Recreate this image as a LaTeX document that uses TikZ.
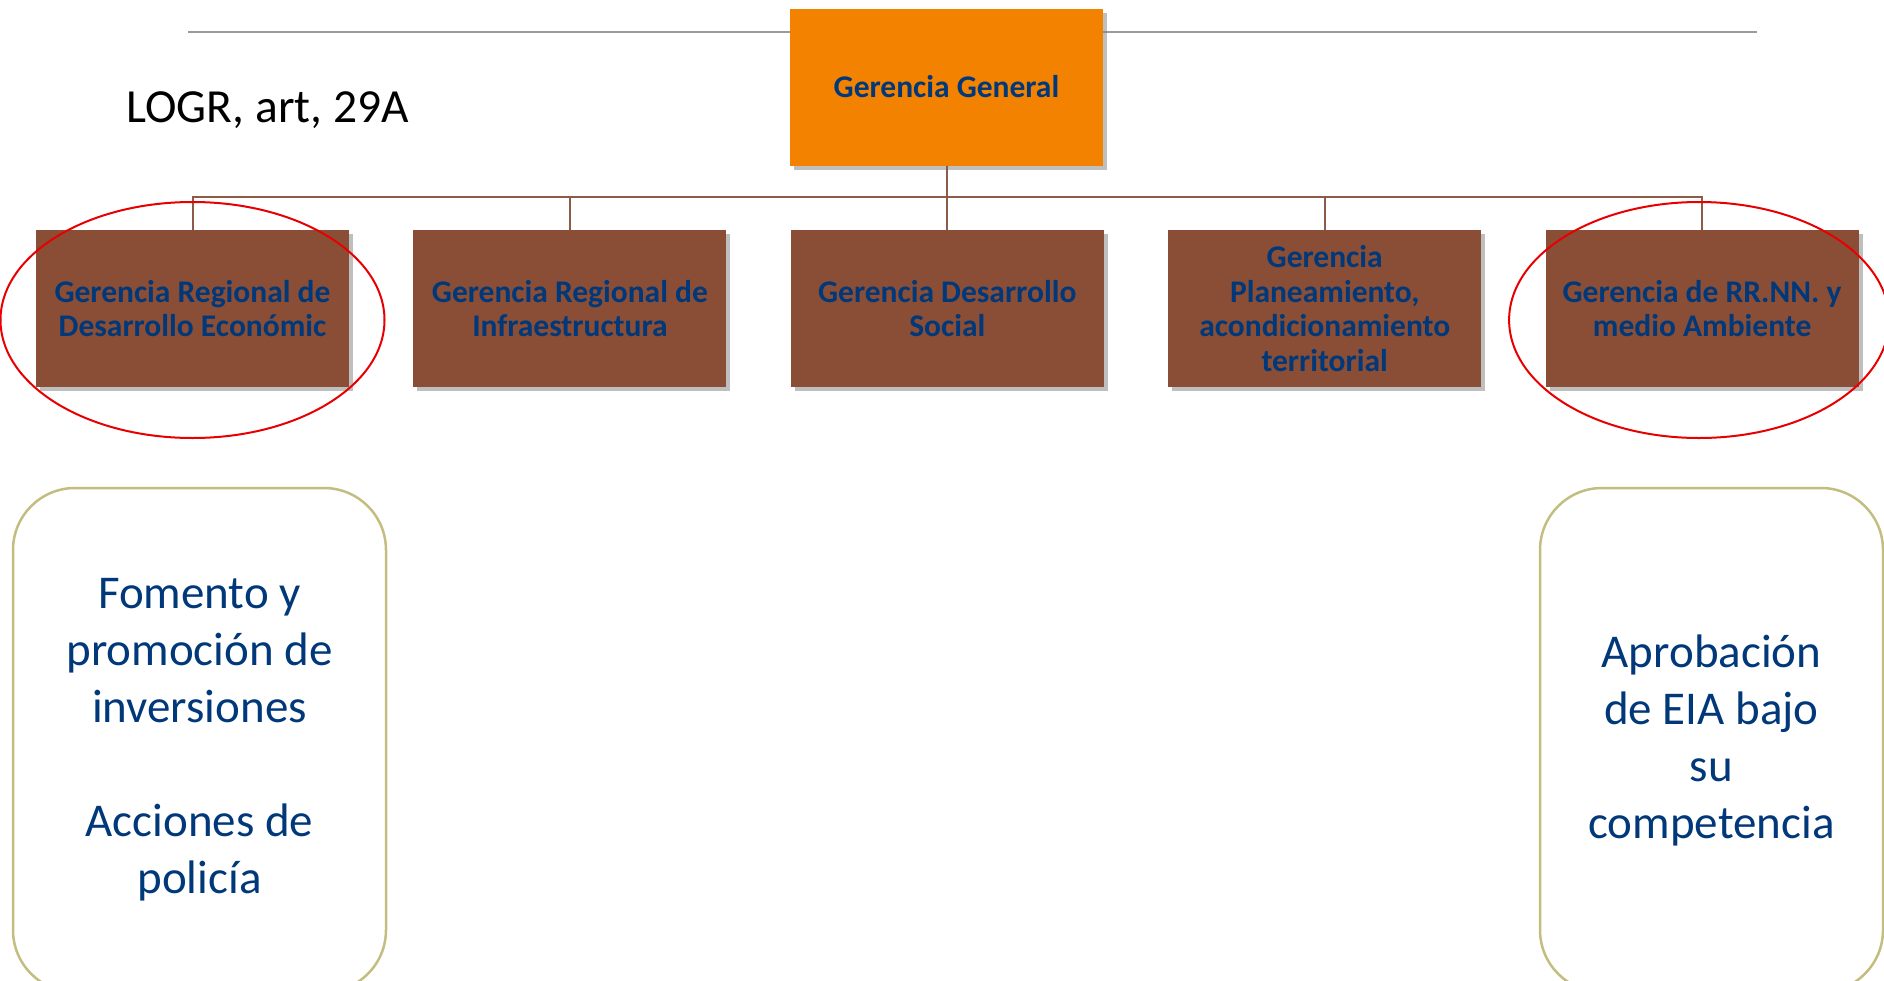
\documentclass[tikz,border=0pt]{standalone}
\usepackage{fontspec}
\setmainfont{Carlito}
\usetikzlibrary{positioning,shadows}

\definecolor{ggorange}{RGB}{242,130,0}
\definecolor{unitbrown}{RGB}{137,78,53}
\definecolor{textblue}{RGB}{0,56,122}
\definecolor{linkbrown}{RGB}{140,92,72}
\definecolor{rulegrey}{RGB}{155,155,155}
\definecolor{noteolive}{RGB}{196,189,128}
\definecolor{markred}{RGB}{232,0,0}

\tikzset{
  unit/.style={rectangle, minimum width=313pt, minimum height=157pt, inner sep=0pt,
    align=center, text=textblue, font=\bfseries\fontsize{31.5}{34.5}\selectfont,
    drop shadow={shadow xshift=4pt, shadow yshift=-4pt, opacity=0.5}},
  link/.style={draw=linkbrown, line width=2pt},
  ring/.style={draw=markred, line width=2pt},
  notebox/.style={draw=noteolive, line width=2.5pt, rounded corners=62pt, inner sep=0pt,
    align=center, text=textblue, font=\fontsize{47}{57}\selectfont}
}

\begin{document}
\begin{tikzpicture}[x=1pt, y=-1pt]

    % Fix the page size
    \clip (0,0) rectangle (1884,980);

    % Draw the grey rule at the top
    \draw[rulegrey, line width=2pt] (188,32) -- (1757,32);

    % Draw the head box
    \node[unit, fill=ggorange] (gg) at (946.5,87) {Gerencia General};

    % Draw the five units
    \node[unit, fill=unitbrown] (ecn) at (192.5,308.5) {Gerencia Regional de\\Desarrollo Económic};
    \node[unit, fill=unitbrown, right=64pt of ecn] (inf) {Gerencia Regional de\\Infraestructura};
    \node[unit, fill=unitbrown, right=64pt of inf] (soc) {Gerencia Desarrollo\\Social};
    \node[unit, fill=unitbrown, right=64pt of soc] (pla) {Gerencia\\Planeamiento,\\acondicionamiento\\territorial};
    \node[unit, fill=unitbrown, right=64pt of pla] (amb) {Gerencia de RR.NN. y\\medio Ambiente};

    % Connect the head to each unit through the bus
    \coordinate (bus) at (0,197);
    \foreach \u in {ecn,inf,soc,pla,amb}
        \draw[link] (gg.south) -- (gg.south |- bus) -| (\u.north);

    % Mark the two units with red rings
    \draw[ring] ([yshift=-11.5pt]ecn.center) ellipse [x radius=192pt, y radius=118pt];
    \draw[ring] ([xshift=-3pt, yshift=-11.5pt]amb.center) ellipse [x radius=190pt, y radius=118pt];

    % Law reference
    \node[anchor=base west, font=\fontsize{47.5}{56}\selectfont] (law) at (123,122) {LOGR, art, 29A};

    % Notes under the marked units
    \node[notebox, minimum width=373pt, minimum height=504pt] (fomento) at (199.5,740)
        {Fomento y\\promoción de\\inversiones\\[57pt]Acciones de\\policía};
    \node[notebox, minimum width=343pt, minimum height=504pt] (eia) at (1711.5,740)
        {Aprobación\\de EIA bajo\\su\\competencia};

\end{tikzpicture}
\end{document}
